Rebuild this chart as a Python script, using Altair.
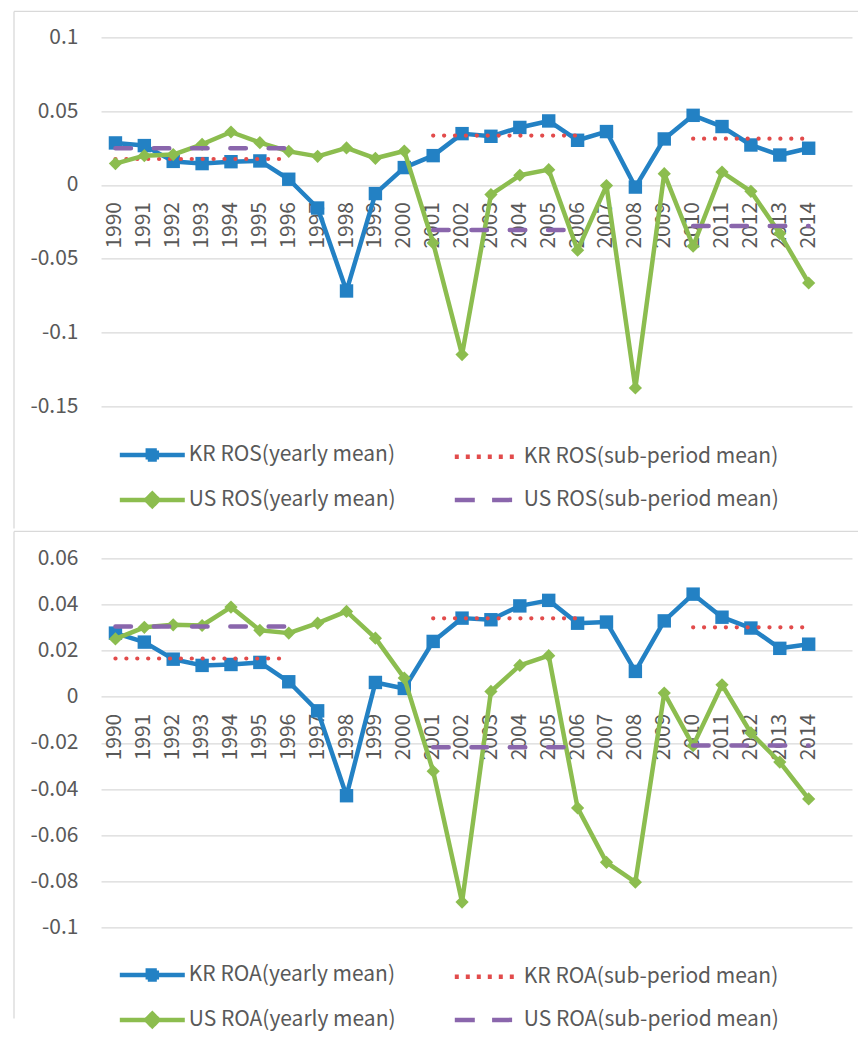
import altair as alt
import pandas as pd

# ---------------- data ----------------
years = list(range(1990, 2015))

kr_ros = [0.0285, 0.0267, 0.0160, 0.0145, 0.0158, 0.0163, 0.0039, -0.0156, -0.0718, -0.0058,
          0.0118, 0.0199, 0.0348, 0.0330, 0.0390, 0.0434, 0.0303, 0.0362, -0.0014, 0.0312,
          0.0472, 0.0396, 0.0271, 0.0203, 0.0249]
us_ros = [0.0145, 0.0199, 0.0206, 0.0276, 0.0359, 0.0287, 0.0228, 0.0194, 0.0251, 0.0181,
          0.0230, -0.0393, -0.1149, -0.0065, 0.0066, 0.0104, -0.0442, -0.0004, -0.1375, 0.0077,
          -0.0415, 0.0088, -0.0043, -0.0329, -0.0664]
kr_ros_sub = [0.0176, 0.0335, 0.0314]
us_ros_sub = [0.0249, -0.0305, -0.0278]

kr_roa = [0.0276, 0.0237, 0.0163, 0.0136, 0.0140, 0.0149, 0.0065, -0.0061, -0.0429, 0.0062,
          0.0036, 0.0240, 0.0341, 0.0334, 0.0394, 0.0418, 0.0319, 0.0324, 0.0110, 0.0329,
          0.0445, 0.0345, 0.0298, 0.0210, 0.0228]
us_roa = [0.0251, 0.0301, 0.0312, 0.0309, 0.0389, 0.0288, 0.0276, 0.0319, 0.0370, 0.0254,
          0.0081, -0.0323, -0.0890, 0.0023, 0.0136, 0.0178, -0.0482, -0.0718, -0.0804, 0.0016,
          -0.0212, 0.0052, -0.0157, -0.0283, -0.0443]
kr_roa_sub = [0.0166, 0.0340, 0.0301]
us_roa_sub = [0.0305, -0.0219, -0.0211]

sub_start = [1990, 2001, 2010]
sub_end = [1996, 2006, 2014]

ros_names = ["KR ROS(yearly mean)", "KR ROS(sub-period mean)",
             "US ROS(yearly mean)", "US ROS(sub-period mean)"]
roa_names = ["KR ROA(yearly mean)", "KR ROA(sub-period mean)",
             "US ROA(yearly mean)", "US ROA(sub-period mean)"]

ros_ticks = [0.1, 0.05, 0, -0.05, -0.1, -0.15]
roa_ticks = [0.06, 0.04, 0.02, 0, -0.02, -0.04, -0.06, -0.08, -0.1]

# ---------------- style ----------------
C_KR = "#2381C4"
C_KRSUB = "#E24B4B"
C_US = "#8CBD4F"
C_USSUB = "#8A66AC"
FONT = "Noto Sans CJK KR"
GRAY = "#595959"
GRID = "#D9D9D9"
W, H = 751, 369

P_SQ = "M-3.25,0H3.25M-0.45,-0.45H0.45V0.45H-0.45Z"
P_DIA = "M-3.25,0H3.25M0,-0.62L0.62,0L0,0.62L-0.62,0Z"
P_LINE = "M-3.25,0H3.25"


def yearly_rows(vals, name):
    return pd.DataFrame({"year": years, "value": vals, "series": name, "period": 0})


def sub_rows(means, name):
    rows = []
    for k, (s, e, m) in enumerate(zip(sub_start, sub_end, means)):
        for yr in range(s, e + 1):
            rows.append({"year": yr, "value": m, "series": name, "period": k})
    return pd.DataFrame(rows)


def panel(names, kr, us, kr_sub, us_sub, ticks, dom, leg_y, left_len, top_y):
    df = pd.concat([yearly_rows(kr, names[0]), sub_rows(kr_sub, names[1]),
                    yearly_rows(us, names[2]), sub_rows(us_sub, names[3])],
                   ignore_index=True)
    base = alt.Chart(df)
    xs = alt.Scale(domain=[1989.5, 2015.5], nice=False, zero=False)
    ys = alt.Scale(domain=dom, nice=False, zero=False)
    yaxis = alt.Axis(values=ticks, labelExpr="datum.value + ''", domain=False, ticks=False,
                     tickSize=0, grid=True, gridColor=GRID, gridWidth=1.3,
                     labelFont=FONT, labelFontSize=21, labelColor=GRAY, labelPadding=23,
                     title=None)
    x = alt.X("year:Q", scale=xs, axis=None)
    y = alt.Y("value:Q", scale=ys, axis=yaxis)

    one = pd.DataFrame({"k": [0]})
    frame_top = alt.Chart(one).mark_rule(color=GRID, strokeWidth=1.3).encode(
        x=alt.value(-87), x2=alt.value(757), y=alt.value(top_y))
    frame_left = alt.Chart(one).mark_rule(color=GRID, strokeWidth=1.3).encode(
        x=alt.value(-87), y=alt.value(top_y), y2=alt.value(left_len))

    labels = alt.Chart(pd.DataFrame({"year": years, "zero": 0,
                                     "label": [str(v) for v in years]})).mark_text(
        angle=270, align="right", baseline="middle", dx=-17, fontSize=21, font=FONT,
        color=GRAY).encode(x=x, y=alt.Y("zero:Q", scale=ys, axis=yaxis), text="label:N")

    kr_line = base.transform_filter(alt.datum.series == names[0]).mark_line(
        color=C_KR, strokeWidth=4.5, strokeJoin="round").encode(x=x, y=y)
    kr_pts = base.transform_filter(alt.datum.series == names[0]).mark_square(
        color=C_KR, size=180, opacity=1, filled=True).encode(x=x, y=y)
    kr_sub_line = base.transform_filter(alt.datum.series == names[1]).mark_line(
        color=C_KRSUB, strokeWidth=4.2, strokeDash=[0.1, 10.8], strokeCap="round").encode(
        x=x, y=y, detail="period:N")
    us_line = base.transform_filter(alt.datum.series == names[2]).mark_line(
        color=C_US, strokeWidth=4.5, strokeJoin="round").encode(x=x, y=y)
    us_pts = base.transform_filter(alt.datum.series == names[2]).mark_point(
        shape="diamond", color=C_US, size=175, opacity=1, filled=True).encode(x=x, y=y)
    us_sub_line = base.transform_filter(alt.datum.series == names[3]).mark_line(
        color=C_USSUB, strokeWidth=4.5, strokeDash=[15.5, 22.8], strokeCap="round").encode(
        x=x, y=y, detail="period:N")

    # legend (column-major order: yearly column first, sub-period column second)
    order = [names[0], names[2], names[1], names[3]]
    leg_colors = [C_KR, C_US, C_KRSUB, C_USSUB]
    leg_shapes = [P_SQ, P_DIA, P_LINE, P_LINE]
    leg_dash = [[1, 0], [1, 0], [4, 7], [20, 17.3]]
    leg = alt.Legend(title=None, orient="none", legendX=18.8, legendY=leg_y, columns=2,
                     symbolSize=400, symbolStrokeWidth=4.5, symbolOffset=20,
                     labelOffset=24, labelFont=FONT, labelFontSize=21, labelColor=GRAY,
                     labelLimit=0, rowPadding=16, columnPadding=50, padding=0,
                     symbolOpacity=1)
    legend_layer = alt.Chart(pd.DataFrame({"series": order})).transform_filter(
        "false").mark_point(filled=True, opacity=1, strokeWidth=4.5).encode(
        fill=alt.Fill("series:N", scale=alt.Scale(domain=order, range=leg_colors), legend=leg),
        stroke=alt.Stroke("series:N", scale=alt.Scale(domain=order, range=leg_colors), legend=leg),
        shape=alt.Shape("series:N", scale=alt.Scale(domain=order, range=leg_shapes), legend=leg),
        strokeDash=alt.StrokeDash("series:N", scale=alt.Scale(domain=order, range=leg_dash),
                                  legend=leg),
    )

    return alt.layer(frame_top, frame_left, labels, kr_line, kr_pts, kr_sub_line,
                     us_line, us_pts, us_sub_line, legend_layer).properties(width=W, height=H)


top = panel(ros_names, kr_ros, us_ros, kr_ros_sub, us_ros_sub, ros_ticks, [-0.15, 0.1],
            405, 491, -26)
bottom = panel(roa_names, kr_roa, us_roa, kr_roa_sub, us_roa_sub, roa_ticks, [-0.1, 0.06],
               404, 460, -27)

chart = alt.vconcat(top, bottom, spacing=1).resolve_scale(
    fill="independent", stroke="independent", shape="independent",
    strokeDash="independent").resolve_legend(
    fill="independent", stroke="independent", shape="independent",
    strokeDash="independent").properties(
    padding={"left": 5, "top": 2.4, "right": 0, "bottom": 0}).configure_view(strokeWidth=0)

chart.save("out.html", embed_options={"renderer": "svg", "actions": False})
